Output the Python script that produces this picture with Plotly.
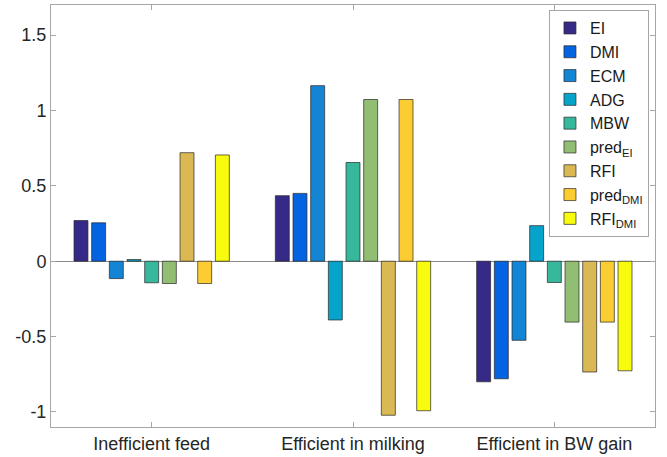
import plotly.graph_objects as go

groups = ["Inefficient feed", "Efficient in milking", "Efficient in BW gain"]
series_names = ["EI", "DMI", "ECM", "ADG", "MBW", "pred<sub>EI</sub>", "RFI", "pred<sub>DMI</sub>", "RFI<sub>DMI</sub>"]
EI = [0.27, 0.435, -0.80]
DMI = [0.255, 0.45, -0.78]
ECM = [-0.115, 1.165, -0.525]
ADG = [0.011, -0.39, 0.236]
MBW = [-0.143, 0.655, -0.141]
predEI = [-0.148, 1.073, -0.404]
RFI = [0.72, -1.022, -0.735]
predDMI = [-0.148, 1.073, -0.404]
RFIDMI = [0.705, -0.992, -0.727]
values = [EI, DMI, ECM, ADG, MBW, predEI, RFI, predDMI, RFIDMI]
colors = ["#352a87", "#0363e1", "#1485d4", "#06a3ca", "#37b89d", "#91be72", "#dab954", "#fccc33", "#f9fb0e"]
yticks = [-1, -0.5, 0, 0.5, 1, 1.5]
yticklabels = ["-1", "-0.5", "0", "0.5", "1", "1.5"]

fig = go.Figure()
for name, vals, col in zip(series_names, values, colors):
    fig.add_trace(go.Bar(x=[0, 1, 2], y=vals, name=name,
                         marker=dict(color=col, line=dict(color="rgba(40,40,40,0.7)", width=1))))

axis_common = dict(showline=True, linecolor="#a6a6a6", linewidth=1, mirror="ticks", ticks="inside",
                   ticklen=5, tickcolor="#a6a6a6", showgrid=False, automargin=False)
fig.update_layout(
    width=667, height=457,
    margin=dict(l=51, r=12, t=5, b=30, autoexpand=False),
    paper_bgcolor="white", plot_bgcolor="white",
    barmode="group", bargap=0.21, bargroupgap=0.21,
    font=dict(family="Liberation Sans, Arial", color="#262626"),
    xaxis=dict(range=[-0.5, 2.5], tickvals=[0, 1, 2], ticktext=groups, tickfont=dict(size=18),
               zeroline=False, **axis_common),
    yaxis=dict(range=[-1.1, 1.7], tickvals=yticks, ticktext=yticklabels, tickfont=dict(size=18),
               zeroline=True, zerolinecolor="#8c8c8c", zerolinewidth=1, **axis_common),
    legend=dict(x=0.99, y=0.988, xanchor="right", yanchor="top", bgcolor="white", bordercolor="#a6a6a6",
                borderwidth=1, font=dict(size=16, color="#1a1a1a"), tracegroupgap=0, itemwidth=30),
    showlegend=True,
)
fig.write_html("out.html", config={"displayModeBar": False},
               post_script="document.body.style.margin='0';document.body.style.overflow='hidden';")
